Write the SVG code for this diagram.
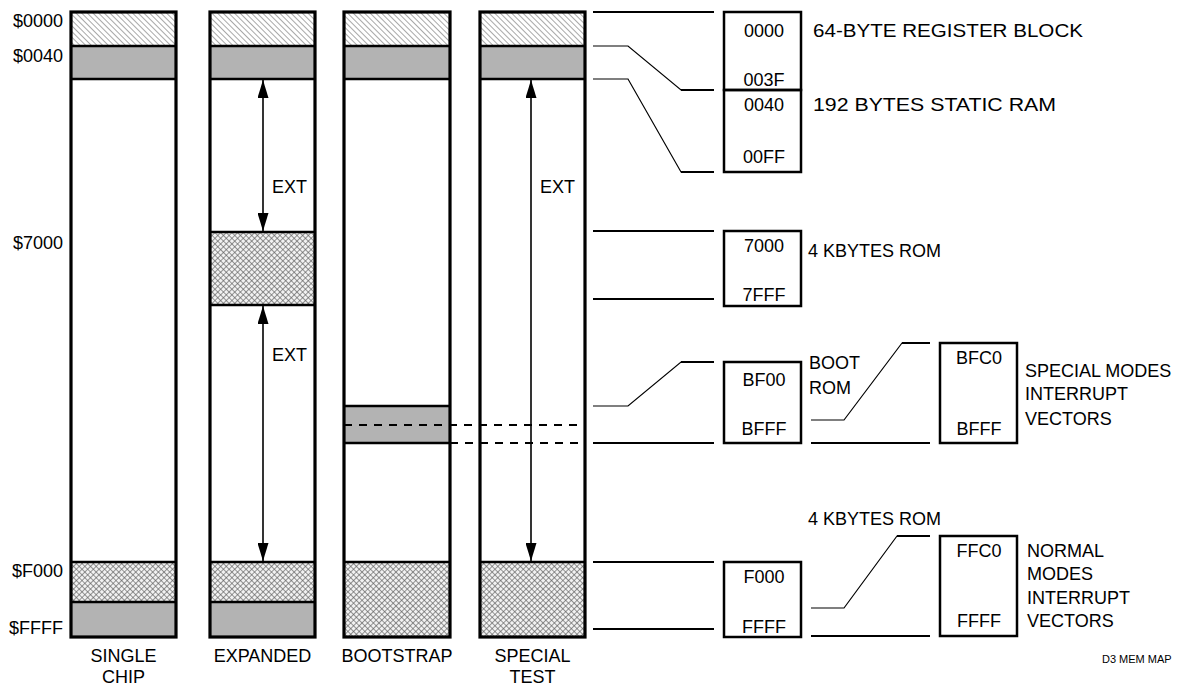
<svg xmlns="http://www.w3.org/2000/svg" width="1195" height="688" viewBox="0 0 1195 688">
<style>
text{font-family:"Liberation Sans",Arial,sans-serif;font-size:18px;fill:#000}
.r{text-anchor:end}.m{text-anchor:middle}
.col{fill:none;stroke:#000;stroke-width:3.2}
.sep{stroke:#000;stroke-width:2.5}
.ln{stroke:#000;stroke-width:2;fill:none}
.thin{stroke:#000;stroke-width:1.2;fill:none}
.box{fill:none;stroke:#000;stroke-width:2.5}
.gray{fill:#b3b3b3}
.hatch{fill:url(#hatch)}
.cross{fill:url(#cross)}
.dash{stroke:#000;stroke-width:2;stroke-dasharray:8 7}
.arr{stroke:#000;stroke-width:1.6;marker-start:url(#ah);marker-end:url(#ah)}
.small{font-size:11px}
</style>
<defs>
<pattern id="hatch" width="4" height="4" patternUnits="userSpaceOnUse" patternTransform="rotate(-45)">
<rect width="4" height="4" fill="#fff"/>
<line x1="0" y1="0" x2="0" y2="4" stroke="#6e6e6e" stroke-width="1.2"/>
</pattern>
<pattern id="cross" width="4" height="4" patternUnits="userSpaceOnUse" patternTransform="rotate(45)">
<rect width="4" height="4" fill="#f2f2f2"/>
<line x1="0" y1="0" x2="0" y2="4" stroke="#5e5e5e" stroke-width="1.3"/>
<line x1="0" y1="0" x2="4" y2="0" stroke="#5e5e5e" stroke-width="1.3"/>
</pattern>
<marker id="ah" markerUnits="userSpaceOnUse" markerWidth="18" markerHeight="11" refX="18" refY="5.5" orient="auto-start-reverse">
<path d="M0,0 L18,5.5 L0,11 z" fill="#000"/>
</marker>
</defs>

<g id="address-labels">
<text class="r" x="63" y="27">$0000</text>
<text class="r" x="63" y="62">$0040</text>
<text class="r" x="63" y="249">$7000</text>
<text class="r" x="63" y="577">$F000</text>
<text class="r" x="63" y="634">$FFFF</text>
</g>

<g id="col-single-chip">
<rect class="hatch" x="71" y="12" width="105" height="34"/>
<rect class="gray" x="71" y="46" width="105" height="33"/>
<rect class="cross" x="71" y="562" width="105" height="40"/>
<rect class="gray" x="71" y="602" width="105" height="35"/>
<line class="sep" x1="71" y1="46" x2="176" y2="46"/>
<line class="sep" x1="71" y1="79" x2="176" y2="79"/>
<line class="sep" x1="71" y1="562" x2="176" y2="562"/>
<line class="sep" x1="71" y1="602" x2="176" y2="602"/>
<rect class="col" x="71" y="12" width="105" height="625"/>
<text class="m" x="123.5" y="662">SINGLE</text>
<text class="m" x="123.5" y="683">CHIP</text>
</g>

<g id="col-expanded">
<rect class="hatch" x="210" y="12" width="105" height="34"/>
<rect class="gray" x="210" y="46" width="105" height="33"/>
<rect class="cross" x="210" y="232" width="105" height="73"/>
<rect class="cross" x="210" y="562" width="105" height="40"/>
<rect class="gray" x="210" y="602" width="105" height="35"/>
<line class="sep" x1="210" y1="46" x2="315" y2="46"/>
<line class="sep" x1="210" y1="79" x2="315" y2="79"/>
<line class="sep" x1="210" y1="232" x2="315" y2="232"/>
<line class="sep" x1="210" y1="305" x2="315" y2="305"/>
<line class="sep" x1="210" y1="562" x2="315" y2="562"/>
<line class="sep" x1="210" y1="602" x2="315" y2="602"/>
<rect class="col" x="210" y="12" width="105" height="625"/>
<text class="m" x="262.5" y="662">EXPANDED</text>
</g>

<g id="col-bootstrap">
<rect class="hatch" x="344" y="12" width="106" height="34"/>
<rect class="gray" x="344" y="46" width="106" height="33"/>
<rect class="gray" x="344" y="406" width="106" height="37"/>
<rect class="cross" x="344" y="562" width="106" height="75"/>
<line class="sep" x1="344" y1="46" x2="450" y2="46"/>
<line class="sep" x1="344" y1="79" x2="450" y2="79"/>
<line class="sep" x1="344" y1="406" x2="450" y2="406"/>
<line class="sep" x1="344" y1="443" x2="450" y2="443"/>
<line class="sep" x1="344" y1="562" x2="450" y2="562"/>
<rect class="col" x="344" y="12" width="106" height="625"/>
<text class="m" x="397" y="662">BOOTSTRAP</text>
</g>

<g id="col-special-test">
<rect class="hatch" x="480" y="12" width="105" height="34"/>
<rect class="gray" x="480" y="46" width="105" height="33"/>
<rect class="cross" x="480" y="562" width="105" height="75"/>
<line class="sep" x1="480" y1="46" x2="585" y2="46"/>
<line class="sep" x1="480" y1="79" x2="585" y2="79"/>
<line class="sep" x1="480" y1="562" x2="585" y2="562"/>
<rect class="col" x="480" y="12" width="105" height="625"/>
<text class="m" x="532.5" y="662">SPECIAL</text>
<text class="m" x="532.5" y="683">TEST</text>
</g>

<g id="box-register">
<rect class="box" x="724" y="12" width="77" height="78"/>
<text class="m" x="764" y="37">0000</text>
<text class="m" x="764" y="86">003F</text>
<text x="813" y="37" textLength="270" lengthAdjust="spacingAndGlyphs">64-BYTE REGISTER BLOCK</text>
</g>
<g id="box-ram">
<rect class="box" x="724" y="90" width="77" height="82"/>
<text class="m" x="764" y="111">0040</text>
<text class="m" x="764" y="163">00FF</text>
<text x="813" y="111" textLength="243" lengthAdjust="spacingAndGlyphs">192 BYTES STATIC RAM</text>
</g>
<g id="box-rom7000">
<rect class="box" x="724" y="231" width="77" height="75"/>
<text class="m" x="764" y="252">7000</text>
<text class="m" x="764" y="301">7FFF</text>
<text x="808" y="257">4 KBYTES ROM</text>
</g>
<g id="box-bootrom">
<rect class="box" x="724" y="362" width="77" height="81"/>
<text class="m" x="764" y="386">BF00</text>
<text class="m" x="764" y="435">BFFF</text>
<text x="809" y="369">BOOT</text>
<text x="809" y="394">ROM</text>
</g>
<g id="box-special-vectors">
<rect class="box" x="940" y="343" width="77" height="100"/>
<text class="m" x="979" y="364">BFC0</text>
<text class="m" x="979" y="435">BFFF</text>
<text x="1025" y="377">SPECIAL MODES</text>
<text x="1025" y="400">INTERRUPT</text>
<text x="1025" y="425">VECTORS</text>
</g>
<g id="box-romf000">
<rect class="box" x="724" y="562" width="77" height="75"/>
<text class="m" x="764" y="583">F000</text>
<text class="m" x="764" y="633">FFFF</text>
<text x="808" y="525">4 KBYTES ROM</text>
</g>
<g id="box-normal-vectors">
<rect class="box" x="940" y="536" width="77" height="100"/>
<text class="m" x="979" y="557">FFC0</text>
<text class="m" x="979" y="627">FFFF</text>
<text x="1027" y="557">NORMAL</text>
<text x="1027" y="580">MODES</text>
<text x="1027" y="604">INTERRUPT</text>
<text x="1027" y="627">VECTORS</text>
</g>

<g id="connectors">
<line class="arr" x1="263" y1="80" x2="263" y2="231"/>
<line class="arr" x1="263" y1="306" x2="263" y2="561"/>
<line class="arr" x1="531" y1="80" x2="531" y2="561"/>
<text x="272" y="193">EXT</text>
<text x="272" y="361">EXT</text>
<text x="540" y="193">EXT</text>
<line class="dash" x1="344" y1="425" x2="585" y2="425"/>
<line class="dash" x1="450" y1="443" x2="585" y2="443"/>
<line class="ln" x1="593" y1="12" x2="714" y2="12"/>
<polyline class="thin" points="593,46 628,46 681,90 714,90"/>
<polyline class="thin" points="593,79 628,79 681,172 714,172"/>
<line class="ln" x1="681" y1="90" x2="714" y2="90"/>
<line class="ln" x1="681" y1="172" x2="714" y2="172"/>
<line class="ln" x1="593" y1="231" x2="714" y2="231"/>
<line class="ln" x1="593" y1="299" x2="714" y2="299"/>
<polyline class="thin" points="593,406 628,406 681,362 714,362"/>
<line class="ln" x1="681" y1="362" x2="714" y2="362"/>
<line class="ln" x1="593" y1="443" x2="714" y2="443"/>
<polyline class="thin" points="811,420 844,420 902,343 930,343"/>
<line class="ln" x1="902" y1="343" x2="930" y2="343"/>
<line class="ln" x1="811" y1="443" x2="930" y2="443"/>
<line class="ln" x1="593" y1="562" x2="714" y2="562"/>
<line class="ln" x1="593" y1="629" x2="714" y2="629"/>
<polyline class="thin" points="811,608 844,608 897,536 930,536"/>
<line class="ln" x1="897" y1="536" x2="930" y2="536"/>
<line class="ln" x1="811" y1="636" x2="930" y2="636"/>
</g>

<text class="small" x="1102" y="663">D3 MEM MAP</text>
</svg>
